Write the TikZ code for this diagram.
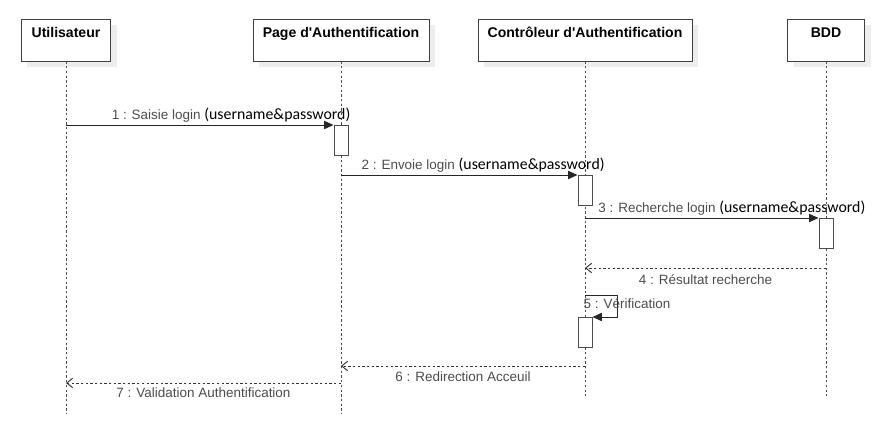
\documentclass[tikz,border=0pt]{standalone}
\usepackage{fontspec}
\setmainfont{Liberation Sans}
\newfontfamily\calib{Carlito}
\usetikzlibrary{arrows.meta}
\usetikzlibrary{shadows}

\newcommand{\creds}{{\color{black}\calib\fontsize{13.5}{16}\selectfont(username\&password)}}

\tikzset{
    actor/.style={draw=black!75, fill=white, line width=0.8pt, minimum height=1.26cm, align=center,
        font=\bfseries\fontsize{12}{14.4}\selectfont,
        drop shadow={shadow xshift=0.18cm, shadow yshift=-0.18cm, fill=black!7, opacity=1}},
    lifeline/.style={draw=black!70, line width=0.8pt, dash pattern=on 2pt off 2pt},
    activation/.style={draw=black!70, fill=white, line width=0.8pt, minimum width=0.42cm, minimum height=0.9cm, inner sep=0pt, anchor=north},
    msg/.style={draw=black!85, line width=0.8pt, -{Triangle[length=8pt,width=7pt]}},
    ret/.style={draw=black!80, line width=0.8pt, dash pattern=on 2pt off 2pt, -{Straight Barb[length=5pt,width=8pt]}},
    lbl/.style={text=black!70, inner sep=1pt, font=\fontsize{11.5}{14}\selectfont}
}

\begin{document}
\begin{tikzpicture}[x=0.03cm, y=-0.03cm]
    \useasboundingbox (0,0) rectangle (895,430);
    \pgfmathsetmacro{\xu}{66}
    \pgfmathsetmacro{\xp}{341}
    \pgfmathsetmacro{\xc}{585}
    \pgfmathsetmacro{\xb}{826}

    \node[actor, minimum width=2.67cm] (user) at (\xu,40) {Utilisateur\\[-6pt] \strut};
    \node[actor, minimum width=5.28cm] (page) at (\xp,40) {Page d\textquotesingle Authentification\\[-6pt] \strut};
    \node[actor, minimum width=6.42cm] (ctrl) at (\xc,40) {Contrôleur d\textquotesingle Authentification\\[-6pt] \strut};
    \node[actor, minimum width=2.31cm] (bdd) at (\xb,40) {BDD\\[-6pt] \strut};

    \coordinate (userend) at (\xu,413);
    \coordinate (pageend) at (\xp,413);
    \coordinate (ctrlend) at (\xc,396);
    \coordinate (bddend) at (\xb,396);
    \draw[lifeline] (user.south) -- (userend);
    \draw[lifeline] (page.south) -- (pageend);
    \draw[lifeline] (ctrl.south) -- (ctrlend);
    \draw[lifeline] (bdd.south) -- (bddend);

    \node[activation] (act1) at (\xp,125) {};
    \node[activation] (act2) at (\xc,175) {};
    \node[activation] (act3) at (\xb,218) {};
    \node[activation] (act5) at (\xc,317) {};

    \coordinate (m1) at (\xu,125);
    \coordinate (m2) at (\xp,175);
    \coordinate (m3) at (\xc,218);
    \coordinate (m5) at (\xc,295);
    \coordinate (r4s) at (\xb,268);
    \coordinate (r4e) at (\xc,268);
    \coordinate (r6s) at (\xc,366);
    \coordinate (r6e) at (\xp,366);
    \coordinate (r7s) at (\xp,383);
    \coordinate (r7e) at (\xu,383);

    \draw[msg] (m1) -- (act1.north west) node[lbl, pos=0.165, anchor=south west, yshift=1pt] {1 : Saisie login \creds};
    \draw[msg] (m2) -- (act2.north west) node[lbl, pos=0.08, anchor=south west, yshift=1pt] {2 : Envoie login \creds};
    \draw[msg] (m3) -- (act3.north west) node[lbl, pos=0.05, anchor=south west, yshift=1pt] {3 : Recherche login \creds};
    \draw[ret] (r4s) -- (r4e) node[lbl, midway, below, yshift=-4.5pt] {4 : Résultat recherche};
    \draw[msg] (m5) -- ++(32,0) |- (act5.north east);
    \node[lbl] (l5) at (627,304) {5 : Vérification};
    \draw[ret] (r6s) -- (r6e) node[lbl, midway, below, yshift=-3.5pt] {6 : Redirection Acceuil};
    \draw[ret] (r7s) -- (r7e) node[lbl, midway, below, yshift=-2.5pt] {7 : Validation Authentification};
\end{tikzpicture}
\end{document}
